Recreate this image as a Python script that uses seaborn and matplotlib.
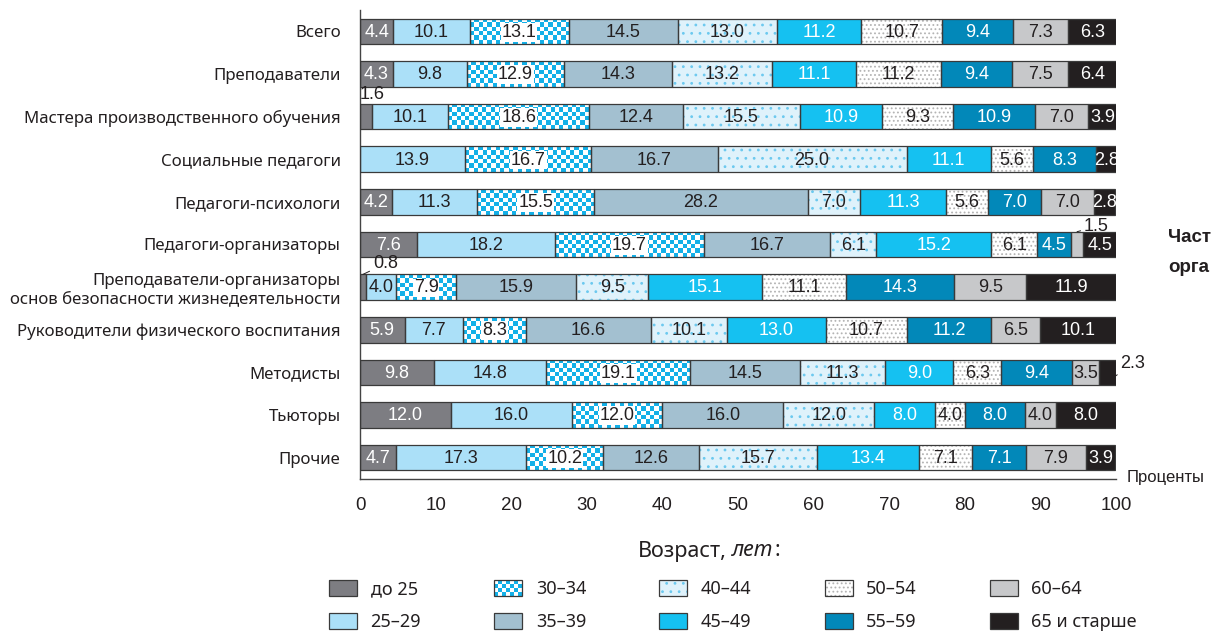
import numpy as np
import pandas as pd
import matplotlib
matplotlib.use("Agg")
import matplotlib.pyplot as plt
import seaborn as sns
from matplotlib.patches import Rectangle, Patch
from matplotlib.colors import ListedColormap
from matplotlib.legend_handler import HandlerBase
from matplotlib.ticker import FixedLocator

# ---------------- data ----------------
categories = [
    "Всего",
    "Преподаватели",
    "Мастера производственного обучения",
    "Социальные педагоги",
    "Педагоги-психологи",
    "Педагоги-организаторы",
    "Преподаватели-организаторы\nоснов безопасности жизнедеятельности",
    "Руководители физического воспитания",
    "Методисты",
    "Тьюторы",
    "Прочие",
]
age_groups = ["до 25", "25–29", "30–34", "35–39", "40–44",
              "45–49", "50–54", "55–59", "60–64", "65 и старше"]

s_under25 = [4.4, 4.3, 1.6, 0.0, 4.2, 7.6, 0.8, 5.9, 9.8, 12.0, 4.7]
s_25_29 = [10.1, 9.8, 10.1, 13.9, 11.3, 18.2, 4.0, 7.7, 14.8, 16.0, 17.3]
s_30_34 = [13.1, 12.9, 18.6, 16.7, 15.5, 19.7, 7.9, 8.3, 19.1, 12.0, 10.2]
s_35_39 = [14.5, 14.3, 12.4, 16.7, 28.2, 16.7, 15.9, 16.6, 14.5, 16.0, 12.6]
s_40_44 = [13.0, 13.2, 15.5, 25.0, 7.0, 6.1, 9.5, 10.1, 11.3, 12.0, 15.7]
s_45_49 = [11.2, 11.1, 10.9, 11.1, 11.3, 15.2, 15.1, 13.0, 9.0, 8.0, 13.4]
s_50_54 = [10.7, 11.2, 9.3, 5.6, 5.6, 6.1, 11.1, 10.7, 6.3, 4.0, 7.1]
s_55_59 = [9.4, 9.4, 10.9, 8.3, 7.0, 4.5, 14.3, 11.2, 9.4, 8.0, 7.1]
s_60_64 = [7.3, 7.5, 7.0, 0.0, 7.0, 1.5, 9.5, 6.5, 3.5, 4.0, 7.9]
s_65_up = [6.3, 6.4, 3.9, 2.8, 2.8, 4.5, 11.9, 10.1, 2.3, 8.0, 3.9]

series = [s_under25, s_25_29, s_30_34, s_35_39, s_40_44,
          s_45_49, s_50_54, s_55_59, s_60_64, s_65_up]

x_ticks = [0, 10, 20, 30, 40, 50, 60, 70, 80, 90, 100]
x_unit_label = "Проценты"
legend_title = ("Возраст,", "лет", ":")
side_text = ["Част", "орга"]

# ---------------- styles ----------------
EDGE = "#3a3a3a"
DARK_TXT = "#231f20"
CYAN = "#13b0e8"
styles = [
    dict(face="#7d7d82", hatch=None, hcol=None, txt="white", checker=False),
    dict(face="#abe0f8", hatch=None, hcol=None, txt=DARK_TXT, checker=False),
    dict(face="white", hatch=None, hcol=None, txt=DARK_TXT, checker=True),
    dict(face="#a3c0d0", hatch=None, hcol=None, txt=DARK_TXT, checker=False),
    dict(face="#dff2fb", hatch="..", hcol="#6cc9ef", txt=DARK_TXT, checker=False),
    dict(face="#15c1f1", hatch=None, hcol=None, txt="white", checker=False),
    dict(face="white", hatch="....", hcol="#b4b4b4", txt=DARK_TXT, checker=False),
    dict(face="#0288b9", hatch=None, hcol=None, txt="white", checker=False),
    dict(face="#c7c8ca", hatch=None, hcol=None, txt=DARK_TXT, checker=False),
    dict(face="#231f20", hatch=None, hcol=None, txt="white", checker=False),
]

sns.set_theme(style="white")
NARROW = ["Liberation Sans Narrow", "Liberation Sans", "DejaVu Sans"]
HUMAN = ["Noto Sans", "DejaVu Sans"]
plt.rcParams["font.family"] = HUMAN
plt.rcParams["hatch.linewidth"] = 0.8

W, H = 1211, 634
fig = plt.figure(figsize=(W / 100, H / 100), dpi=100)
ax = fig.add_axes([360 / W, 1 - 479 / H, 756 / W, 469 / H])

n = len(categories)
left = np.zeros(n)
bar_w = 0.6
containers = []
for gi, vals in enumerate(series):
    vals = np.asarray(vals, float)
    mask = vals > 0
    df = pd.DataFrame({"cat": np.array(categories)[mask], "val": vals[mask]})
    st = styles[gi]
    kw = dict(edgecolor=st["hcol"] if st["hcol"] else "none", linewidth=0)
    if st["hatch"]:
        kw["hatch"] = st["hatch"]
    sns.barplot(data=df, x="val", y="cat", order=categories, orient="h",
                left=left[mask], width=bar_w, color=st["face"], saturation=1,
                errorbar=None, ax=ax, zorder=1, **kw)
    cont = ax.containers[-1]
    if st["checker"]:
        cmap = ListedColormap(["white", CYAN])
        for p in cont.patches:
            x0, y0, w, h = p.get_x(), p.get_y(), p.get_width(), p.get_height()
            nx = max(2, int(round(w * 7.56 / 4.3)))
            ny = 6
            arr = np.add.outer(np.arange(ny), np.arange(nx)) % 2
            im = ax.imshow(arr, cmap=cmap, extent=(x0, x0 + w, y0 + h, y0),
                           aspect="auto", interpolation="nearest", zorder=2)
            im.set_clip_path(p)
    # outlines
    sns.barplot(data=df, x="val", y="cat", order=categories, orient="h",
                left=left[mask], width=bar_w, fill=False, color=EDGE,
                linewidth=0.9, errorbar=None, ax=ax, zorder=3)
    containers.append((gi, cont, np.array(categories)[mask], vals[mask], left[mask].copy()))
    left += vals

# ---------------- value labels ----------------
cat_index = {c: i for i, c in enumerate(categories)}
outside = {(2, 0), (6, 0), (5, 8), (8, 9)}
for gi, cont, cats, vals, lefts in containers:
    st = styles[gi]
    for p, c, v, l in zip(cont.patches, cats, vals, lefts):
        ri = cat_index[c]
        if (ri, gi) in outside:
            continue
        cx = l + v / 2
        kw = dict(ha="center", va="center", fontsize=13, color=st["txt"],
                  family=NARROW, zorder=5)
        if st["checker"]:
            kw["bbox"] = dict(boxstyle="square,pad=0.05", fc="white", ec="none")
        ax.text(cx, ri + 0.02, f"{v:.1f}", **kw)

def val(gi, ri):
    return series[gi][ri]

def start(gi, ri):
    return sum(series[k][ri] for k in range(gi))

# 1.6 (Мастера, до 25)
ax.text(start(0, 2) + val(0, 2) / 2 + 0.8, 2 - bar_w / 2 - 0.02, f"{val(0, 2):.1f}",
        ha="center", va="bottom", fontsize=13, family=NARROW, color=DARK_TXT)
# 0.8 (Преподаватели-организаторы ОБЖ, до 25)
x08 = start(0, 6) + val(0, 6) / 2
ax.annotate(f"{val(0, 6):.1f}", xy=(x08, 6 - bar_w / 2), xytext=(x08 + 1.3, 6 - bar_w / 2 - 0.05),
            ha="left", va="bottom", fontsize=13, family=NARROW, color=DARK_TXT,
            arrowprops=dict(arrowstyle="-", color=DARK_TXT, lw=0.7, shrinkA=0, shrinkB=0))
# 1.5 (Педагоги-организаторы, 60-64)
x15 = start(8, 5) + val(8, 5) / 2
ax.annotate(f"{val(8, 5):.1f}", xy=(x15, 5 - bar_w / 2), xytext=(x15 + 0.9, 5 - bar_w / 2 - 0.12),
            ha="left", va="center", fontsize=13, family=NARROW, color=DARK_TXT,
            arrowprops=dict(arrowstyle="-", color=DARK_TXT, lw=0.7, shrinkA=0, shrinkB=0),
            annotation_clip=False)
# 2.3 (Методисты, 65+)
x23 = start(9, 8) + val(9, 8)
ax.annotate(f"{val(9, 8):.1f}", xy=(x23 - 0.2, 8 + 0.1), xytext=(x23 + 0.6, 8 - 0.2),
            ha="left", va="center", fontsize=13, family=NARROW, color=DARK_TXT,
            arrowprops=dict(arrowstyle="-", color=DARK_TXT, lw=0.7, shrinkA=0, shrinkB=0),
            annotation_clip=False)

# ---------------- axes styling ----------------
ax.set_xlim(0, 100)
ax.set_ylim(n - 0.5, -0.5)
ax.set_xlabel("")
ax.set_ylabel("")
for s in ["top", "right"]:
    ax.spines[s].set_visible(False)
for s in ["left", "bottom"]:
    ax.spines[s].set_color("#444444")
    ax.spines[s].set_linewidth(1.0)
ax.xaxis.set_major_locator(FixedLocator(x_ticks))
ax.set_xticklabels([str(t) for t in x_ticks])
ax.tick_params(axis="x", which="major", direction="out", length=5, width=0.9,
               color="#444444", labelsize=13.5, labelcolor=DARK_TXT, pad=8)
for t in ax.get_xticklabels():
    t.set_family(NARROW)
ax.set_yticks(range(n))
ax.set_yticklabels(categories)
ax.tick_params(axis="y", which="major", length=0, pad=14, labelsize=12.1, labelcolor=DARK_TXT)
ax.yaxis.set_minor_locator(FixedLocator(np.arange(-0.5, n, 1.0)))
ax.tick_params(axis="y", which="minor", direction="out", length=6, width=0.9, color="#444444")
ax.grid(False)

ax.text(1.014, 0.004, x_unit_label, transform=ax.transAxes, ha="left", va="center",
        fontsize=12, family=NARROW, color=DARK_TXT)

# side clipped text
for txt, yy in zip(side_text, [237, 268]):
    fig.text(1168 / W, 1 - yy / H, txt, ha="left", va="center", fontsize=13.5,
             fontweight="bold", family=["Liberation Sans", "DejaVu Sans"], color=DARK_TXT)

# ---------------- legend ----------------
class StyledHandler(HandlerBase):
    def __init__(self, st):
        super().__init__()
        self.st = st

    def create_artists(self, legend, orig_handle, xdescent, ydescent, width, height, fontsize, trans):
        st = self.st
        arts = []
        x0, y0 = -xdescent, -ydescent
        base = Rectangle((x0, y0), width, height, facecolor=st["face"],
                         edgecolor=st["hcol"] if st["hcol"] else "none", linewidth=0,
                         hatch=st["hatch"], transform=trans)
        arts.append(base)
        if st["checker"]:
            nx, ny = 7, 4
            cw, ch = width / nx, height / ny
            for i in range(ny):
                for j in range(nx):
                    if (i + j) % 2 == 0:
                        arts.append(Rectangle((x0 + j * cw, y0 + i * ch), cw, ch,
                                              facecolor=CYAN, edgecolor="none", transform=trans))
        arts.append(Rectangle((x0, y0), width, height, facecolor="none", edgecolor=EDGE,
                              linewidth=0.9, transform=trans))
        return arts

handles = [Patch(label=g) for g in age_groups]
hmap = {h: StyledHandler(st) for h, st in zip(handles, styles)}
leg = fig.legend(handles=handles, labels=age_groups, handler_map=hmap, ncol=5,
                 loc="upper left", bbox_to_anchor=(329 / W, 1 - 580 / H),
                 frameon=False, fontsize=13, handlelength=1.55, handleheight=0.95,
                 handletextpad=0.75, labelspacing=0.85, columnspacing=4.05,
                 borderpad=0, borderaxespad=0)
for t in leg.get_texts():
    t.set_color(DARK_TXT)

# legend title with italic part
fig.canvas.draw()
r = fig.canvas.get_renderer()
ty = 1 - 551 / H
p1 = fig.text(0, ty, legend_title[0], ha="left", va="center", fontsize=15.5, color=DARK_TXT)
p2 = fig.text(0, ty, legend_title[1], ha="left", va="center", fontsize=15.5, color=DARK_TXT,
              style="italic")
p3 = fig.text(0, ty, legend_title[2], ha="left", va="center", fontsize=15.5, color=DARK_TXT)
w1 = p1.get_window_extent(r).width
w2 = p2.get_window_extent(r).width
w3 = p3.get_window_extent(r).width
gap = 5
total = w1 + gap + w2 + 1 + w3
xs = 709 - total / 2
p1.set_x(xs / W)
p2.set_x((xs + w1 + gap) / W)
p3.set_x((xs + w1 + gap + w2 + 1) / W)

fig.savefig("out.png", dpi=100)
